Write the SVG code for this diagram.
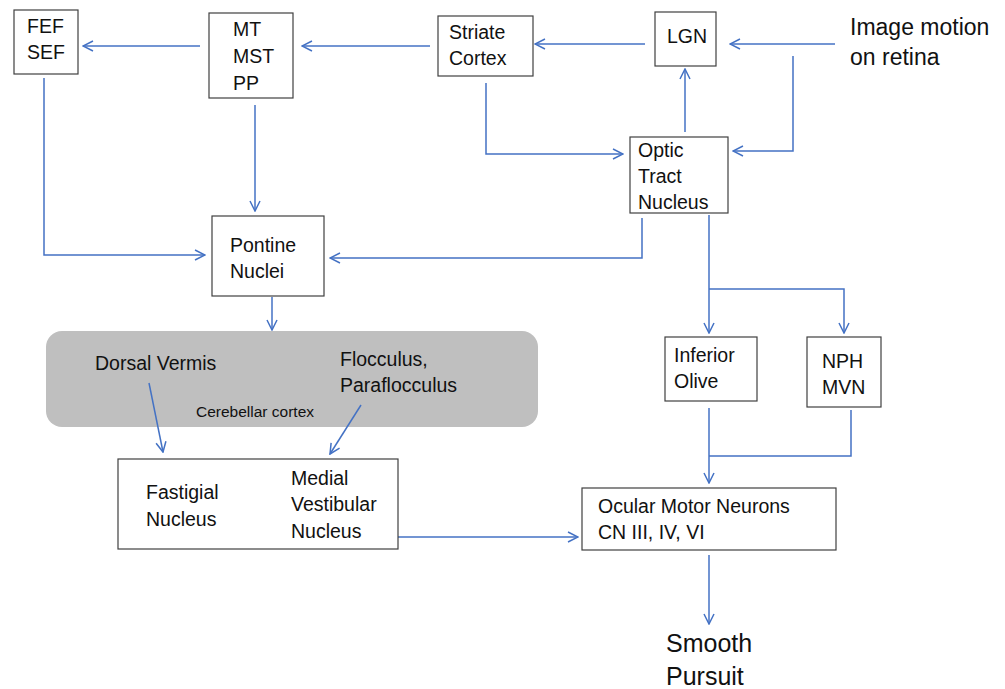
<svg xmlns="http://www.w3.org/2000/svg" width="1005" height="689" viewBox="0 0 1005 689">
<style>
.box{fill:#fff;stroke:#404040;stroke-width:1.2}
.t{font-family:"Liberation Sans",Arial,sans-serif;font-size:19.5px;fill:#111}
.big{font-family:"Liberation Sans",Arial,sans-serif;font-size:23px;fill:#111}
.small{font-family:"Liberation Sans",Arial,sans-serif;font-size:15.5px;fill:#111}
.c{fill:none;stroke:#4472c4;stroke-width:1.5}
</style>
<defs>
<marker id="a" viewBox="0 0 12 12" refX="11" refY="6" markerWidth="12" markerHeight="12" markerUnits="userSpaceOnUse" orient="auto">
<path d="M1,1 L11,6 L1,11" fill="none" stroke="#4472c4" stroke-width="1.5"/>
</marker>
</defs>
<rect width="1005" height="689" fill="#fff"/>
<g id="cerebellar-cortex">
<rect x="46" y="331" width="492" height="96" rx="16" fill="#bfbfbf"/>
<text class="t" x="95" y="370">Dorsal Vermis</text>
<text class="t" x="340" y="366">Flocculus,</text>
<text class="t" x="340" y="392">Paraflocculus</text>
<text class="small" x="196" y="417">Cerebellar cortex</text>
</g>
<g id="connectors">
<path class="c" marker-end="url(#a)" d="M200,46 H83"/>
<path class="c" marker-end="url(#a)" d="M430,46 H302"/>
<path class="c" marker-end="url(#a)" d="M645,44 H535"/>
<path class="c" marker-end="url(#a)" d="M835,44 H730"/>
<path class="c" marker-end="url(#a)" d="M793,56 V151 H733"/>
<path class="c" marker-end="url(#a)" d="M685,132 V69"/>
<path class="c" marker-end="url(#a)" d="M486,83 V154 H623"/>
<path class="c" marker-end="url(#a)" d="M44,78 V255 H205"/>
<path class="c" marker-end="url(#a)" d="M255,105 V211"/>
<path class="c" marker-end="url(#a)" d="M642,218 V258 H330"/>
<path class="c" marker-end="url(#a)" d="M272,297 V330"/>
<path class="c" marker-end="url(#a)" d="M709,215 V333"/>
<path class="c" marker-end="url(#a)" d="M709,289 H844 V333"/>
<path class="c" marker-end="url(#a)" d="M149,383 L163,452"/>
<path class="c" marker-end="url(#a)" d="M361,405 L330,454"/>
<path class="c" marker-end="url(#a)" d="M398,537 H578"/>
<path class="c" marker-end="url(#a)" d="M709,408 V483"/>
<path class="c" d="M851,410 V456 H709"/>
<path class="c" marker-end="url(#a)" d="M709,555 V624"/>
</g>
<g id="fef-sef">
<rect class="box" x="14" y="10" width="64" height="64"/>
<text class="t" x="27" y="33">FEF</text>
<text class="t" x="27" y="59">SEF</text>
</g>
<g id="mt-mst-pp">
<rect class="box" x="209" y="13" width="84" height="85"/>
<text class="t" x="233" y="36">MT</text>
<text class="t" x="233" y="63">MST</text>
<text class="t" x="233" y="90">PP</text>
</g>
<g id="striate-cortex">
<rect class="box" x="438" y="16" width="95" height="60"/>
<text class="t" x="449" y="39">Striate</text>
<text class="t" x="449" y="65">Cortex</text>
</g>
<g id="lgn">
<rect class="box" x="655" y="12" width="61" height="54"/>
<text class="t" x="667" y="43">LGN</text>
</g>
<g id="image-motion">
<text class="big" x="850" y="35">Image motion</text>
<text class="big" x="850" y="65">on retina</text>
</g>
<g id="optic-tract-nucleus">
<rect class="box" x="630" y="137" width="98" height="76"/>
<text class="t" x="638" y="157">Optic</text>
<text class="t" x="638" y="183">Tract</text>
<text class="t" x="638" y="209">Nucleus</text>
</g>
<g id="pontine-nuclei">
<rect class="box" x="212" y="216" width="112" height="80"/>
<text class="t" x="230" y="252">Pontine</text>
<text class="t" x="230" y="278">Nuclei</text>
</g>
<g id="fastigial-medial">
<rect class="box" x="118" y="459" width="280" height="90"/>
<text class="t" x="146" y="499">Fastigial</text>
<text class="t" x="146" y="526">Nucleus</text>
<text class="t" x="291" y="485">Medial</text>
<text class="t" x="291" y="511">Vestibular</text>
<text class="t" x="291" y="538">Nucleus</text>
</g>
<g id="inferior-olive">
<rect class="box" x="665" y="337" width="92" height="64"/>
<text class="t" x="674" y="362">Inferior</text>
<text class="t" x="674" y="388">Olive</text>
</g>
<g id="nph-mvn">
<rect class="box" x="807" y="337" width="74" height="70"/>
<text class="t" x="822" y="368">NPH</text>
<text class="t" x="822" y="394">MVN</text>
</g>
<g id="ocular-motor">
<rect class="box" x="582" y="488" width="254" height="62"/>
<text class="t" x="598" y="513">Ocular Motor Neurons</text>
<text class="t" x="598" y="539">CN III, IV, VI</text>
</g>
<g id="smooth-pursuit">
<text class="big" x="666" y="652" style="font-size:25px">Smooth</text>
<text class="big" x="666" y="685" style="font-size:25px">Pursuit</text>
</g>
</svg>
